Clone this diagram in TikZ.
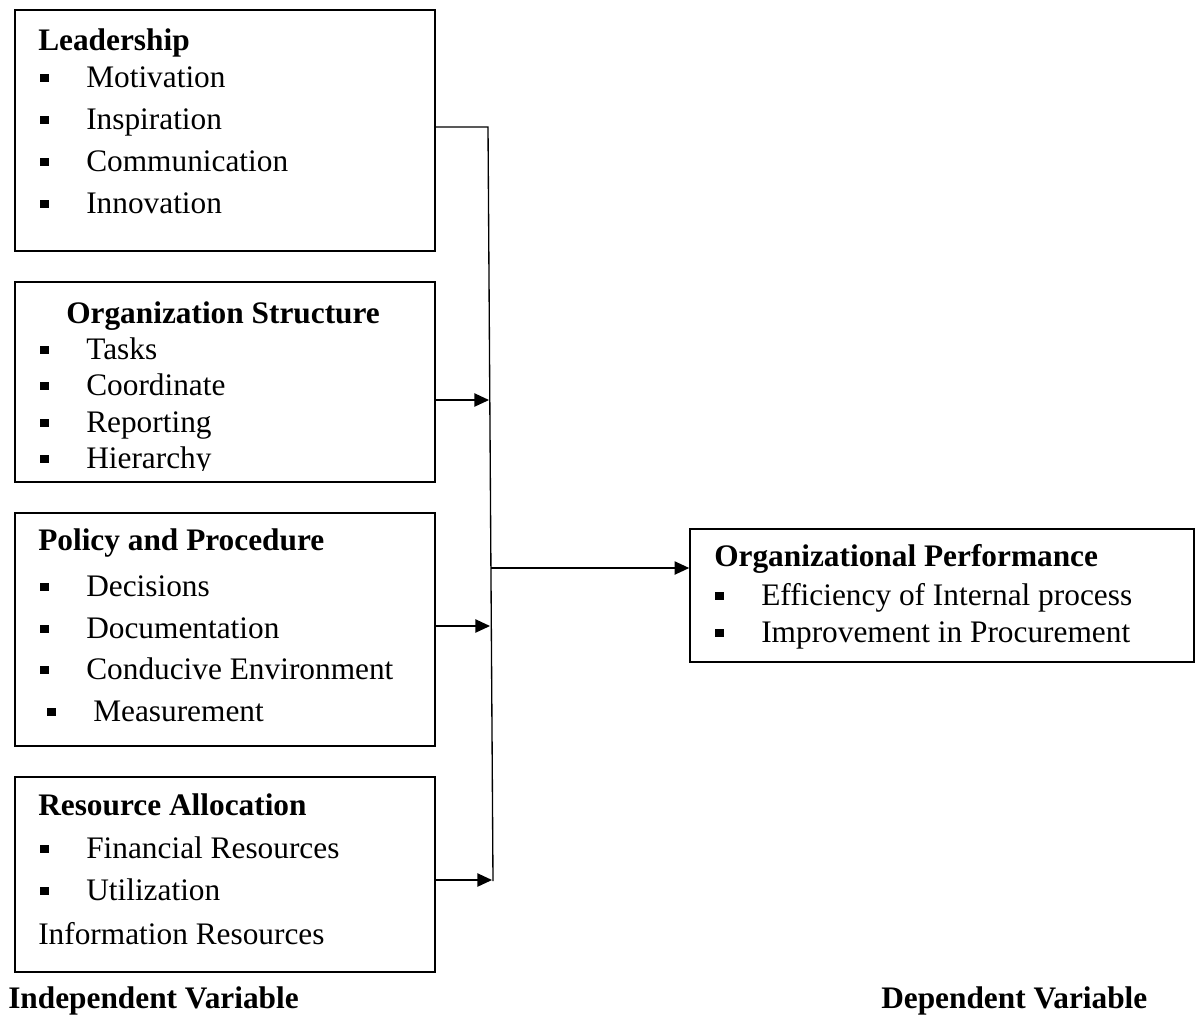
\documentclass[tikz,border=0pt]{standalone}
\usepackage{fontspec}
\setmainfont{Liberation Serif}
\usetikzlibrary{arrows.meta,fit}
\newcommand{\bul}[1]{\makebox[36pt][l]{\hspace{1.5pt}\rule[3.5pt]{6.5pt}{6.5pt}}#1}

\begin{document}
\begin{tikzpicture}[x=0.75pt,y=0.75pt,yscale=-1,xscale=1,
    box/.style={draw,line width=1.2pt,inner sep=0pt},
    txt/.style={anchor=base west,inner sep=0pt,font=\fontsize{23.5}{28}\selectfont},
    head/.style={txt,font=\fontsize{23.5}{28}\selectfont\bfseries},
    arr/.style={line width=1pt,-{Triangle[length=11pt,width=10pt]}}]
\useasboundingbox (0,0) rectangle (1195,1015);

% Boxes
\node[box,fit={(15,10) (435,251)}] (lead) {};
\node[box,fit={(15,282) (435,482)}] (orgs) {};
\node[box,fit={(15,513) (435,746)}] (pol) {};
\node[box,fit={(15,777) (435,972)}] (res) {};
\node[box,fit={(690,529) (1194,662)}] (perf) {};

% Leadership
\node[head] (lead-h) at (38,50) {Leadership};
\foreach \t/\y [count=\i] in {Motivation/87,Inspiration/129,Communication/171,Innovation/213}
    \node[txt] (lead-\i) at (38,\y) {\bul{\t}};

% Organization Structure
\node[head] (orgs-h) at (66,323) {Organization Structure};
\foreach \t/\y [count=\i] in {Tasks/359,Coordinate/395,Reporting/432}
    \node[txt] (orgs-\i) at (38,\y) {\bul{\t}};
\begin{scope}
    \clip (15,282) rectangle (435,470);
    \node[txt] (orgs-4) at (38,468) {\bul{Hierarchy}};
\end{scope}

% Policy and Procedure
\node[head] (pol-h) at (38,550) {Policy and Procedure};
\foreach \t/\y [count=\i] in {Decisions/596,Documentation/638,Conducive Environment/679}
    \node[txt] (pol-\i) at (38,\y) {\bul{\t}};
\node[txt] (pol-4) at (45,721) {\bul{Measurement}};

% Resource Allocation
\node[head] (res-h) at (38,815) {Resource Allocation};
\foreach \t/\y [count=\i] in {Financial Resources/858,Utilization/900}
    \node[txt] (res-\i) at (38,\y) {\bul{\t}};
\node[txt] (res-3) at (38,944) {Information Resources};

% Organizational Performance
\node[head] (perf-h) at (714,566) {Organizational Performance};
\foreach \t/\y [count=\i] in {Efficiency of Internal process/605,Improvement in Procurement/642}
    \node[txt] (perf-\i) at (713,\y) {\bul{\t}};

% Variable labels
\node[head] (indep) at (8,1008) {Independent Variable};
\node[head] (dep) at (881,1008) {Dependent Variable};

% Connectors
\coordinate (bustop) at (488,127);
\coordinate (busbot) at (493,881);
\coordinate (os-in) at (489,400);
\coordinate (pol-in) at (490,626);
\coordinate (res-in) at (492,880);
\coordinate (pf-out) at (491,568);
\draw[line width=1pt] (bustop -| lead.east) -- (bustop) -- (busbot);
\draw[arr] (os-in -| orgs.east) -- (os-in);
\draw[arr] (pol-in -| pol.east) -- (pol-in);
\draw[arr] (res-in -| res.east) -- (res-in);
\draw[arr] (pf-out) -- (pf-out -| perf.west);
\end{tikzpicture}
\end{document}
